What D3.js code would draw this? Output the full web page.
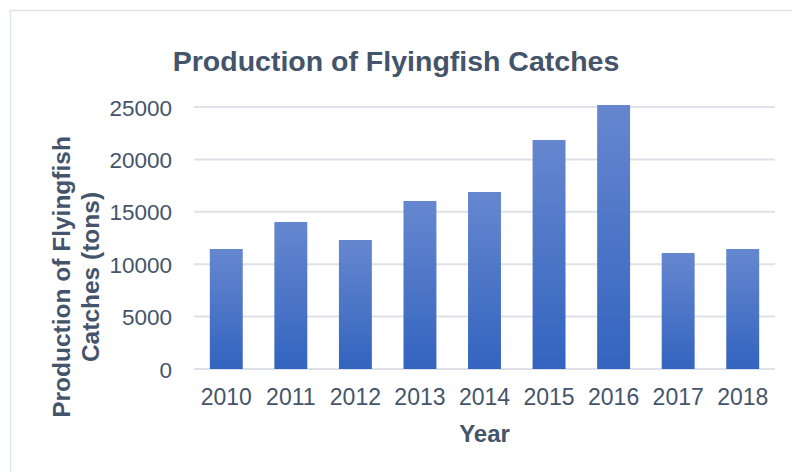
<!DOCTYPE html>
<html>
<head>
<meta charset="utf-8">
<script src="https://cdn.jsdelivr.net/npm/d3@7"></script>
<style>
  body { margin: 0; background: #fff; }
  text { font-family: "Liberation Sans", Arial, sans-serif; fill: #44546a; }
</style>
</head>
<body>
<div id="chart"></div>
<script>
var years = ["2010", "2011", "2012", "2013", "2014", "2015", "2016", "2017", "2018"];
var catches = [11450, 14030, 12310, 16030, 16890, 21850, 25190, 11070, 11450];
var yTicks = [0, 5000, 10000, 15000, 20000, 25000];

var width = 792, height = 472;
var margin = { top: 107, right: 17, bottom: 103, left: 194 };

var svg = d3.select('#chart').append('svg')
  .attr('width', width)
  .attr('height', height);

// gradient for the bars
var grad = svg.append('defs').append('linearGradient')
  .attr('id', 'barGrad')
  .attr('x1', 0).attr('y1', 0).attr('x2', 0).attr('y2', 1);
grad.append('stop').attr('offset', '0%').attr('stop-color', '#6687cf');
grad.append('stop').attr('offset', '100%').attr('stop-color', '#3364bf');

// outer frame
svg.append('rect')
  .attr('x', 10.5).attr('y', 10.5)
  .attr('width', 800).attr('height', 500)
  .attr('fill', 'none')
  .attr('stroke', '#dfe3ea')
  .attr('stroke-width', 1.5);

var x = d3.scaleBand()
  .domain(years)
  .range([margin.left, width - margin.right])
  .paddingInner(0.49)
  .paddingOuter(0.245);

var y = d3.scaleLinear()
  .domain([0, 25000])
  .range([height - margin.bottom, margin.top]);

// gridlines
svg.append('g')
  .selectAll('line')
  .data(yTicks)
  .enter()
  .append('line')
  .attr('x1', margin.left)
  .attr('x2', width - margin.right)
  .attr('y1', function(d) { return y(d); })
  .attr('y2', function(d) { return y(d); })
  .attr('stroke', '#dee2e8')
  .attr('stroke-width', 2);

// bars
svg.append('g')
  .selectAll('rect')
  .data(catches)
  .enter()
  .append('rect')
  .attr('x', function(d, i) { return x(years[i]); })
  .attr('width', x.bandwidth())
  .attr('y', function(d) { return y(d); })
  .attr('height', function(d) { return y(0) - y(d); })
  .attr('fill', 'url(#barGrad)');

// y axis labels
var yAxis = svg.append('g')
  .attr('transform', 'translate(' + (margin.left - 22) + ',0)')
  .call(d3.axisLeft(y).tickValues(yTicks).tickSize(0).tickPadding(0).tickFormat(d3.format('d')));
yAxis.select('.domain').remove();
yAxis.selectAll('text')
  .attr('dy', '0.36em')
  .style('font-size', '22.5px')
  .style('font-family', '"Liberation Sans", Arial, sans-serif')
  .attr('fill', '#44546a');

// x axis labels
var xAxis = svg.append('g')
  .attr('transform', 'translate(0,' + y(0) + ')')
  .call(d3.axisBottom(x).tickSize(0).tickPadding(20));
xAxis.select('.domain').remove();
xAxis.selectAll('text')
  .attr('dy', '0.71em')
  .style('font-size', '23px')
  .style('font-family', '"Liberation Sans", Arial, sans-serif')
  .attr('fill', '#44546a');

// title
svg.append('text')
  .attr('x', 396)
  .attr('y', 71)
  .attr('text-anchor', 'middle')
  .style('font-size', '28.5px')
  .style('font-weight', 'bold')
  .text('Production of Flyingfish Catches');

// x title
svg.append('text')
  .attr('x', (margin.left + width - margin.right) / 2)
  .attr('y', 442)
  .attr('text-anchor', 'middle')
  .style('font-size', '24px')
  .style('font-weight', 'bold')
  .text('Year');

// y title, two lines
var yTitle = svg.append('text')
  .attr('transform', 'translate(70,277) rotate(-90)')
  .attr('text-anchor', 'middle')
  .style('font-size', '24.5px')
  .style('font-weight', 'bold');
yTitle.append('tspan').attr('x', 0).attr('y', 0).text('Production of Flyingfish');
yTitle.append('tspan').attr('x', 0).attr('y', 29).text('Catches (tons)');
</script>
</body>
</html>
